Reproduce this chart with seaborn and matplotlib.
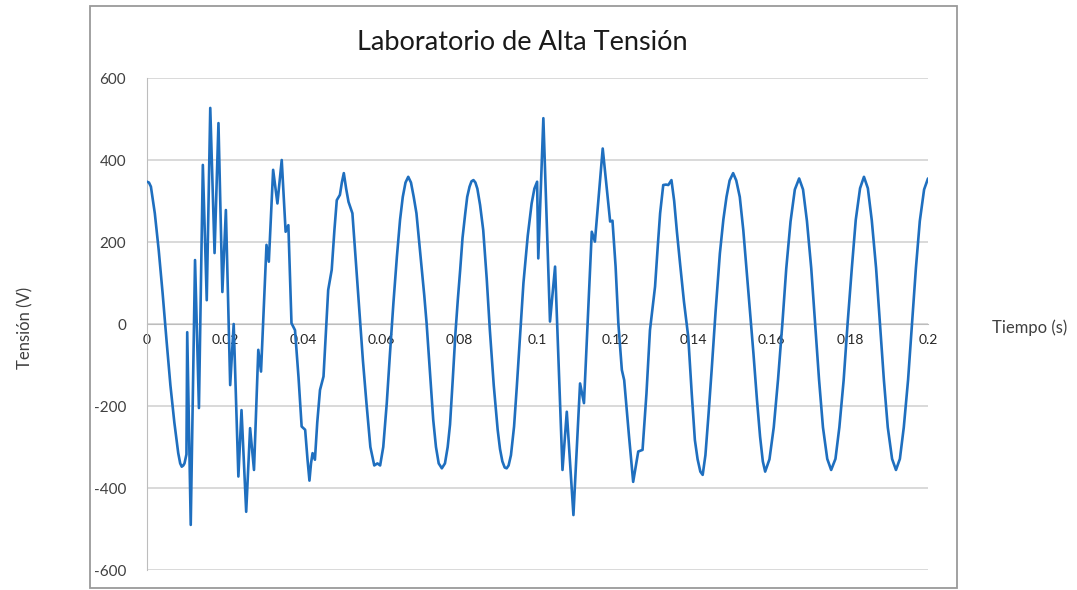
import matplotlib
matplotlib.use('Agg')
import matplotlib.pyplot as plt
import seaborn as sns
import pandas as pd
from matplotlib.patches import Rectangle

tiempo = [
    0.0000, 0.0005, 0.0010, 0.0020, 0.0030, 0.0040, 0.0050, 0.0060, 0.0070, 0.0080,
    0.0085, 0.0089, 0.0093, 0.0096, 0.0101, 0.0103, 0.0112, 0.0123, 0.0133, 0.0143,
    0.0153, 0.0162, 0.0173, 0.0183, 0.0193, 0.0202, 0.0213, 0.0222, 0.0234, 0.0242,
    0.0254, 0.0264, 0.0274, 0.0285, 0.0292, 0.0306, 0.0312, 0.0323, 0.0334, 0.0345,
    0.0355, 0.0362, 0.0370, 0.0379, 0.0388, 0.0396, 0.0405, 0.0411, 0.0416, 0.0420,
    0.0424, 0.0430, 0.0436, 0.0443, 0.0452, 0.0458, 0.0464, 0.0473, 0.0480, 0.0486,
    0.0494, 0.0499, 0.0504, 0.0510, 0.0516, 0.0526, 0.0535, 0.0545, 0.0553, 0.0562,
    0.0572, 0.0582, 0.0590, 0.0597, 0.0605, 0.0614, 0.0622, 0.0631, 0.0640, 0.0648,
    0.0655, 0.0662, 0.0669, 0.0676, 0.0683, 0.0690, 0.0697, 0.0703, 0.0710, 0.0716,
    0.0725, 0.0733, 0.0740, 0.0747, 0.0755, 0.0763, 0.0770, 0.0776, 0.0783, 0.0790,
    0.0796, 0.0802, 0.0808, 0.0815, 0.0820, 0.0826, 0.0831, 0.0836, 0.0841, 0.0846,
    0.0853, 0.0861, 0.0870, 0.0878, 0.0888, 0.0898, 0.0904, 0.0910, 0.0916, 0.0921,
    0.0926, 0.0932, 0.0940, 0.0947, 0.0956, 0.0964, 0.0975, 0.0985, 0.0992, 0.0999,
    0.1002, 0.1015, 0.1032, 0.1045, 0.1064, 0.1075, 0.1092, 0.1109, 0.1119, 0.1139,
    0.1147, 0.1167, 0.1186, 0.1192, 0.1200, 0.1207, 0.1216, 0.1222, 0.1234, 0.1245,
    0.1258, 0.1269, 0.1279, 0.1288, 0.1301, 0.1308, 0.1314, 0.1322, 0.1329, 0.1335,
    0.1343, 0.1350, 0.1357, 0.1365, 0.1375, 0.1386, 0.1395, 0.1403, 0.1410, 0.1417,
    0.1423, 0.1430, 0.1438, 0.1446, 0.1456, 0.1467, 0.1476, 0.1484, 0.1492, 0.1501,
    0.1509, 0.1518, 0.1527, 0.1540, 0.1553, 0.1562, 0.1570, 0.1577, 0.1583, 0.1594,
    0.1605, 0.1616, 0.1627, 0.1637, 0.1648, 0.1659, 0.1670, 0.1680, 0.1690, 0.1701,
    0.1711, 0.1721, 0.1731, 0.1742, 0.1752, 0.1763, 0.1773, 0.1784, 0.1794, 0.1805,
    0.1815, 0.1826, 0.1836, 0.1846, 0.1856, 0.1867, 0.1877, 0.1887, 0.1897, 0.1908,
    0.1918, 0.1928, 0.1938, 0.1949, 0.1959, 0.1969, 0.1979, 0.1990, 0.2000,
]
tension = [
    347, 345, 335, 270, 180, 75, -40, -150, -240, -315,
    -340, -348, -345, -340, -318, -20, -490, 156, -205, 388,
    58, 527, 173, 490, 78, 278, -149, 0, -372, -210,
    -458, -254, -356, -63, -116, 193, 152, 376, 294, 400,
    225, 241, 2, -15, -130, -250, -258, -330, -382, -340,
    -315, -331, -240, -161, -128, -20, 83, 132, 230, 302,
    315, 345, 368, 330, 298, 270, 150, 18, -90, -193,
    -300, -345, -340, -345, -300, -193, -75, 51, 165, 254,
    310, 345, 359, 345, 310, 270, 200, 140, 70, 2,
    -125, -234, -300, -340, -352, -340, -300, -245, -135, -20,
    60, 132, 210, 270, 310, 335, 348, 351, 345, 330,
    290, 229, 110, -15, -150, -258, -305, -335, -350, -352,
    -345, -320, -250, -153, -20, 100, 215, 294, 330, 347,
    160, 502, 6, 140, -356, -214, -466, -145, -193, 225,
    201, 428, 250, 252, 140, 2, -112, -137, -270, -385,
    -311, -307, -170, -15, 91, 190, 270, 339, 340, 339,
    351, 300, 225, 148, 55, -31, -170, -283, -330, -360,
    -368, -320, -220, -112, 30, 172, 255, 310, 350, 368,
    350, 310, 229, 80, -72, -185, -275, -335, -360, -330,
    -252, -135, 0, 135, 250, 328, 355, 328, 251, 136,
    0, -136, -252, -329, -356, -329, -252, -137, 0, 137,
    254, 331, 359, 331, 253, 137, 0, -136, -252, -329,
    -356, -329, -252, -136, 0, 136, 251, 328, 355,
]

x_ticks = [0, 0.02, 0.04, 0.06, 0.08, 0.1, 0.12, 0.14, 0.16, 0.18, 0.2]
x_labels = ['0', '0.02', '0.04', '0.06', '0.08', '0.1', '0.12', '0.14', '0.16', '0.18', '0.2']
y_ticks = [-600, -400, -200, 0, 200, 400, 600]

df = pd.DataFrame({'Tiempo (s)': tiempo, 'Tensión (V)': tension})

sns.set_style('white')
plt.rcParams['font.family'] = ['Lato', 'DejaVu Sans']

fig = plt.figure(figsize=(10.77, 5.9), dpi=100)
ax = fig.add_axes([147 / 1077, 1 - 570 / 590, 781 / 1077, 492 / 590])

sns.lineplot(data=df, x='Tiempo (s)', y='Tensión (V)', sort=False, estimator=None,
             color='#1F6FBF', linewidth=1.9, ax=ax, zorder=3)

ax.set_xlim(0, 0.2)
ax.set_ylim(-600, 600)
ax.set_yticks(y_ticks)
ax.set_yticklabels([str(v) for v in y_ticks], fontsize=11, color='#404040')
ax.set_xticks(x_ticks)
ax.set_xticklabels(x_labels, fontsize=11, color='#404040')
ax.yaxis.grid(True, color='#d0d0d0', linewidth=1.1)
ax.xaxis.grid(False)

# Excel-style axes: x axis crosses at zero
for s in ['top', 'right']:
    ax.spines[s].set_visible(False)
ax.spines['bottom'].set_position(('data', 0))
ax.spines['bottom'].set_color('#bdbdbd')
ax.spines['left'].set_color('#bdbdbd')
ax.spines['bottom'].set_zorder(1)
ax.tick_params(axis='x', direction='inout', length=5, color='#bdbdbd', pad=5)
ax.tick_params(axis='y', direction='out', length=4, color='#bdbdbd', pad=11)
ax.set_xlabel('')
ax.set_ylabel('')

fig.text(25 / 1077, 1 - 328 / 590, 'Tensión (V)', rotation=90, ha='center', va='center',
         fontsize=12, color='#404040')
fig.text(1030 / 1077, 1 - 328 / 590, 'Tiempo (s)', ha='center', va='center',
         fontsize=12, color='#404040')
fig.text(522 / 1077, 1 - 42 / 590, 'Laboratorio de Alta Tensión', ha='center', va='center',
         fontsize=19.5, color='#1a1a1a')

fig.add_artist(Rectangle((90 / 1077, 1 - 588 / 590), 867 / 1077, 582 / 590,
                         transform=fig.transFigure, fill=False, edgecolor='#9a9a9a', linewidth=1.3))

plt.savefig('out.png', dpi=100)
